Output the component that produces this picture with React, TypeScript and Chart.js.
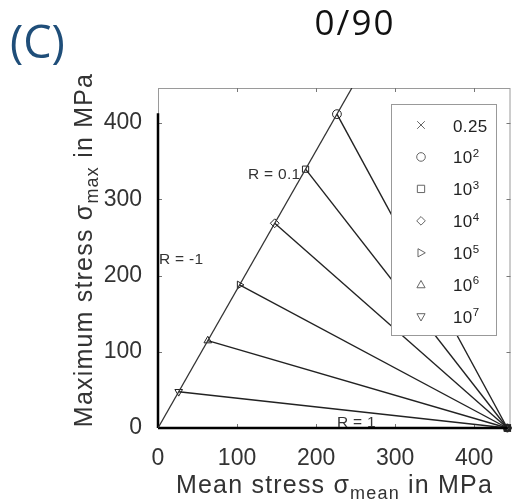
import React, { useEffect, useRef } from "react";
import { Chart, registerables } from "chart.js";

Chart.register(...registerables);

// ---- data ----
const legendBase = ["0.25", "10", "10", "10", "10", "10", "10"];
const legendExp = ["", "2", "3", "4", "5", "6", "7"];
// cycles 10^2 ... 10^7 : points on the R = 0.1 line
const meanStress = [226.4, 186.7, 147.7, 103.2, 63.0, 26.2];
const maxStress = [411.7, 339.5, 268.6, 187.7, 114.6, 47.6];
// static strength (0.25 cycles)
const staticPoint = { x: 442, y: 0 };
// reference rays
const rPos01End = { x: 245.3, y: 446 };
const rNeg1End = { x: 0, y: 413 };
const xTicks = [0, 100, 200, 300, 400];
const yTicks = [0, 100, 200, 300, 400];
const axisMax = 446;

const markerStyles = [
  { style: "circle", rot: 0 },
  { style: "rect", rot: 0 },
  { style: "rectRot", rot: 0 },
  { style: "triangle", rot: 90 },
  { style: "triangle", rot: 0 },
  { style: "triangle", rot: 180 },
];

const FONT = "'Liberation Sans', Arial, sans-serif";

function drawMarker(ctx: CanvasRenderingContext2D, kind: string, rot: number, x: number, y: number, r: number) {
  ctx.save();
  ctx.translate(x, y);
  ctx.rotate((rot * Math.PI) / 180);
  ctx.beginPath();
  if (kind === "crossRot") {
    ctx.moveTo(-r, -r); ctx.lineTo(r, r);
    ctx.moveTo(-r, r); ctx.lineTo(r, -r);
  } else if (kind === "circle") {
    ctx.arc(0, 0, r, 0, Math.PI * 2);
  } else if (kind === "rect") {
    ctx.rect(-r * 0.85, -r * 0.85, r * 1.7, r * 1.7);
  } else if (kind === "rectRot") {
    ctx.moveTo(0, -r); ctx.lineTo(r, 0); ctx.lineTo(0, r); ctx.lineTo(-r, 0); ctx.closePath();
  } else if (kind === "triangle") {
    ctx.moveTo(0, -r); ctx.lineTo(r * 0.95, r * 0.7); ctx.lineTo(-r * 0.95, r * 0.7); ctx.closePath();
  }
  ctx.stroke();
  ctx.restore();
}

type Part = { t: string; sub?: boolean; sup?: boolean };

function drawRich(ctx: CanvasRenderingContext2D, parts: Part[], x: number, y: number, size: number, smallSize: number, align: "left" | "center", spacing: number) {
  const widths = parts.map((p) => {
    ctx.font = `${p.sub || p.sup ? smallSize : size}px ${FONT}`;
    (ctx as any).letterSpacing = `${spacing}px`;
    return ctx.measureText(p.t).width;
  });
  const total = widths.reduce((a, b) => a + b, 0);
  let cx = align === "center" ? x - total / 2 : x;
  ctx.textBaseline = "alphabetic";
  ctx.textAlign = "left";
  parts.forEach((p, i) => {
    ctx.font = `${p.sub || p.sup ? smallSize : size}px ${FONT}`;
    (ctx as any).letterSpacing = `${spacing}px`;
    const dy = p.sub ? size * 0.22 : p.sup ? -size * 0.4 : 0;
    ctx.fillText(p.t, cx, y + dy);
    cx += widths[i];
  });
  (ctx as any).letterSpacing = "0px";
}

const decorPlugin = {
  id: "decor",
  beforeDatasetsDraw(chart: any) {
    const { ctx, chartArea: a, scales } = chart;
    ctx.save();
    ctx.strokeStyle = "#9a9a9a";
    ctx.lineWidth = 1;
    ctx.strokeRect(a.left + 0.5, a.top + 0.5, a.right - a.left - 1, a.bottom - a.top - 1);
    ctx.strokeStyle = "#777";
    const tl = 4;
    xTicks.forEach((v) => {
      if (v === 0) return;
      const px = Math.round(scales.x.getPixelForValue(v)) + 0.5;
      ctx.beginPath();
      ctx.moveTo(px, a.bottom); ctx.lineTo(px, a.bottom - tl);
      ctx.moveTo(px, a.top); ctx.lineTo(px, a.top + tl);
      ctx.stroke();
    });
    yTicks.forEach((v) => {
      if (v === 0) return;
      const py = Math.round(scales.y.getPixelForValue(v)) + 0.5;
      ctx.beginPath();
      ctx.moveTo(a.left, py); ctx.lineTo(a.left + tl, py);
      ctx.moveTo(a.right, py); ctx.lineTo(a.right - tl, py);
      ctx.stroke();
    });
    ctx.restore();
  },
  afterDatasetsDraw(chart: any) {
    const { ctx } = chart;
    ctx.save();
    // legend box
    const bx = 391, by = 104, bw = 105, bh = 231;
    ctx.fillStyle = "#fff";
    ctx.fillRect(bx, by, bw, bh);
    ctx.strokeStyle = "#999";
    ctx.lineWidth = 1;
    ctx.strokeRect(bx + 0.5, by + 0.5, bw, bh);
    const kinds = [{ style: "crossRot", rot: 0 }, ...markerStyles];
    legendBase.forEach((b, i) => {
      const cy = 125 + i * 31.95;
      ctx.strokeStyle = "#666";
      ctx.lineWidth = 1;
      drawMarker(ctx, kinds[i].style, kinds[i].rot, 421, cy, kinds[i].style === "crossRot" ? 3.8 : 4.3);
      ctx.fillStyle = "#222";
      const parts: Part[] = [{ t: b }];
      if (legendExp[i]) parts.push({ t: legendExp[i], sup: true });
      drawRich(ctx, parts, 453, cy + 6.5, 17, 11.5, "left", 0.4);
    });
    // R labels
    ctx.fillStyle = "#333";
    drawRich(ctx, [{ t: "R = -1" }], 159, 264, 15.5, 11, "left", 0.3);
    drawRich(ctx, [{ t: "R = 0.1" }], 248, 179, 15.5, 11, "left", 0.3);
    drawRich(ctx, [{ t: "R = 1" }], 337, 427, 15.5, 11, "left", 0.3);
    // axis titles
    ctx.fillStyle = "#333";
    drawRich(ctx, [{ t: "Mean stress σ" }, { t: "mean", sub: true }, { t: " in MPa" }], 334.5, 493, 25, 18, "center", 1.2);
    ctx.save();
    ctx.translate(92, 250);
    ctx.rotate(-Math.PI / 2);
    drawRich(ctx, [{ t: "Maximum stress σ" }, { t: "max", sub: true }, { t: " in MPa" }], 0, 0, 25, 18, "center", 1.2);
    ctx.restore();
    // headings
    ctx.fillStyle = "#111";
    ctx.font = `35px 'Open Sans', sans-serif`;
    (ctx as any).letterSpacing = "2px";
    ctx.textAlign = "center";
    ctx.textBaseline = "alphabetic";
    ctx.fillText("0/90", 355, 35);
    ctx.fillStyle = "#1f4e79";
    ctx.font = `45px 'Open Sans', sans-serif`;
    (ctx as any).letterSpacing = "0px";
    ctx.textAlign = "left";
    ctx.fillText("(C)", 10, 58);
    ctx.restore();
  },
};

export default function App() {
  const ref = useRef<HTMLCanvasElement | null>(null);
  useEffect(() => {
    if (!ref.current) return;
    const lifeSets = meanStress.map((m, i) => ({
      label: "10^" + legendExp[i + 1],
      data: [{ x: m, y: maxStress[i] }, { x: staticPoint.x, y: staticPoint.y }],
      showLine: true,
      borderColor: "#222",
      borderWidth: 1.4,
      pointStyle: markerStyles[i].style,
      pointRotation: markerStyles[i].rot,
      pointRadius: [4.4, 4],
      pointBorderColor: "#222",
      pointBorderWidth: 1,
      pointBackgroundColor: "rgba(0,0,0,0)",
      clip: false,
    }));
    const chart = new Chart(ref.current, {
      type: "scatter",
      data: {
        datasets: [
          {
            label: "R = 0.1",
            data: [{ x: 0, y: 0 }, rPos01End],
            showLine: true,
            borderColor: "#333",
            borderWidth: 1.3,
            pointRadius: 0,
          },
          {
            label: "R = -1",
            data: [{ x: 0, y: 0 }, rNeg1End],
            showLine: true,
            borderColor: "#000",
            borderWidth: 2.5,
            pointRadius: 0,
            clip: false,
          },
          {
            label: "R = 1",
            data: [{ x: 0, y: 0 }, staticPoint],
            showLine: true,
            borderColor: "#000",
            borderWidth: 2.5,
            pointRadius: 0,
            clip: false,
          },
          ...lifeSets,
          {
            label: "0.25",
            data: [staticPoint],
            showLine: false,
            pointStyle: "crossRot",
            pointRadius: 5,
            pointBorderColor: "#000",
            pointBorderWidth: 1.5,
            clip: false,
          },
        ] as any,
      },
      options: {
        animation: false,
        responsive: false,
        layout: { padding: { top: 88, right: 5, left: 0, bottom: 0 } },
        plugins: { legend: { display: false }, tooltip: { enabled: false }, title: { display: false } },
        scales: {
          x: {
            type: "linear",
            min: 0,
            max: axisMax,
            grid: { display: false, drawTicks: false },
            border: { display: false },
            afterFit: (s: any) => { s.height = 76; },
            afterBuildTicks: (s: any) => { s.ticks = xTicks.map((v) => ({ value: v })); },
            ticks: { padding: 17, color: "#333", font: { family: FONT, size: 23 }, maxRotation: 0 },
          },
          y: {
            type: "linear",
            min: 0,
            max: axisMax,
            grid: { display: false, drawTicks: false },
            border: { display: false },
            afterFit: (s: any) => { s.width = 158; },
            afterBuildTicks: (s: any) => { s.ticks = yTicks.map((v) => ({ value: v })); },
            ticks: { padding: 16, color: "#333", font: { family: FONT, size: 23 } },
          },
        },
      } as any,
      plugins: [decorPlugin],
    });
    return () => chart.destroy();
  }, []);
  return (
    <div style={{ position: "absolute", left: 0, top: 0, width: 517, height: 504, background: "#fff" }}>
      <canvas ref={ref} width={517} height={504} style={{ width: 517, height: 504, display: "block" }} />
    </div>
  );
}
